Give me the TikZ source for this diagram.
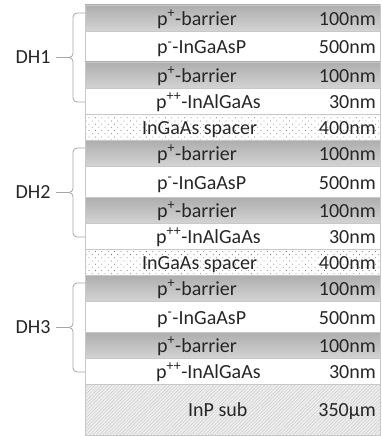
\documentclass[tikz,border=0pt]{standalone}
\usepackage{fontspec}
\setmainfont{Carlito}
\usetikzlibrary{patterns.meta}
\definecolor{txt}{HTML}{262626}
\definecolor{brc}{HTML}{A6A6A6}
\definecolor{edgec}{HTML}{C8C8C8}
\tikzset{
  graylayer/.style={top color=black!32, bottom color=black!17, draw=edgec, line width=0.5pt},
  whitelayer/.style={fill=white, draw=edgec, line width=0.5pt},
  spacerlayer/.style={preaction={fill=white}, draw=edgec, line width=0.5pt,
    pattern={Dots[distance=4.5pt, radius=0.55pt, angle=45]}, pattern color=black!55},
  sublayer/.style={preaction={fill=black!7}, draw=edgec, line width=0.5pt,
    pattern={Lines[angle=45, distance=2.4pt, line width=0.3pt]}, pattern color=black!24},
  lbl/.style={font=\fontsize{20}{22}\selectfont, text=txt, inner sep=0pt},
  dhlbl/.style={font=\fontsize{20}{22}\selectfont, text=txt, inner ysep=0pt, inner xsep=5pt},
  bracec/.style={draw=brc, line width=0.8pt, rounded corners=4pt},
  conn/.style={draw=brc, line width=0.8pt}
}
\begin{document}
\begin{tikzpicture}[x=1pt,y=-1pt]
\useasboundingbox (0,0) rectangle (381,436);
\foreach \s/\n in {5/1,140/2,275/3}{
  % layers
  \path[graylayer]  (85,\s) rectangle (380,\s+26);
  \path[whitelayer] (85,\s+26) rectangle (380,\s+57);
  \path[graylayer]  (85,\s+57) rectangle (380,\s+83.5);
  \path[whitelayer] (85,\s+83.5) rectangle (380,\s+109);
  % texts
  \node[lbl, anchor=base west] (b1-\n) at (157,\s+20.5) {p\textsuperscript{+}-barrier};
  \node[lbl, anchor=base east] (t1-\n) at (376,\s+20.5) {100nm};
  \node[lbl, anchor=base west] (b2-\n) at (157,\s+49) {p\textsuperscript{-}-InGaAsP};
  \node[lbl, anchor=base east] (t2-\n) at (376,\s+49) {500nm};
  \node[lbl, anchor=base west] (b3-\n) at (157,\s+77.5) {p\textsuperscript{+}-barrier};
  \node[lbl, anchor=base east] (t3-\n) at (376,\s+77.5) {100nm};
  \node[lbl, anchor=base west] (b4-\n) at (156,\s+103.5) {p\textsuperscript{++}-InAlGaAs};
  \node[lbl, anchor=base east] (t4-\n) at (376,\s+103.5) {30nm};
  % brace
  \coordinate (tip\n) at (68,\s+52.5);
  \draw[bracec] (85,\s+8) -- (73,\s+8) -- (73,\s+52.5) -- (tip\n);
  \draw[bracec] (tip\n) -- (73,\s+52.5) -- (73,\s+97) -- (85,\s+97);
  \node[dhlbl] (DH\n) at (33,\s+52.5) {DH\n};
  \draw[conn] (DH\n.east) -- (tip\n);
}
\foreach \s/\n in {114/1,249/2}{
  \path[spacerlayer] (85,\s) rectangle (380,\s+26);
  \node[lbl, anchor=base west] (sp-\n) at (142,\s+20) {InGaAs spacer};
  \node[lbl, anchor=base east] (st-\n) at (376,\s+20) {400nm};
}
\path[sublayer] (85,384) rectangle (380,435);
\node[lbl, anchor=base west] (sub) at (188,416) {InP sub};
\node[lbl, anchor=base east] (subt) at (376,416) {350µm};
\end{tikzpicture}
\end{document}
